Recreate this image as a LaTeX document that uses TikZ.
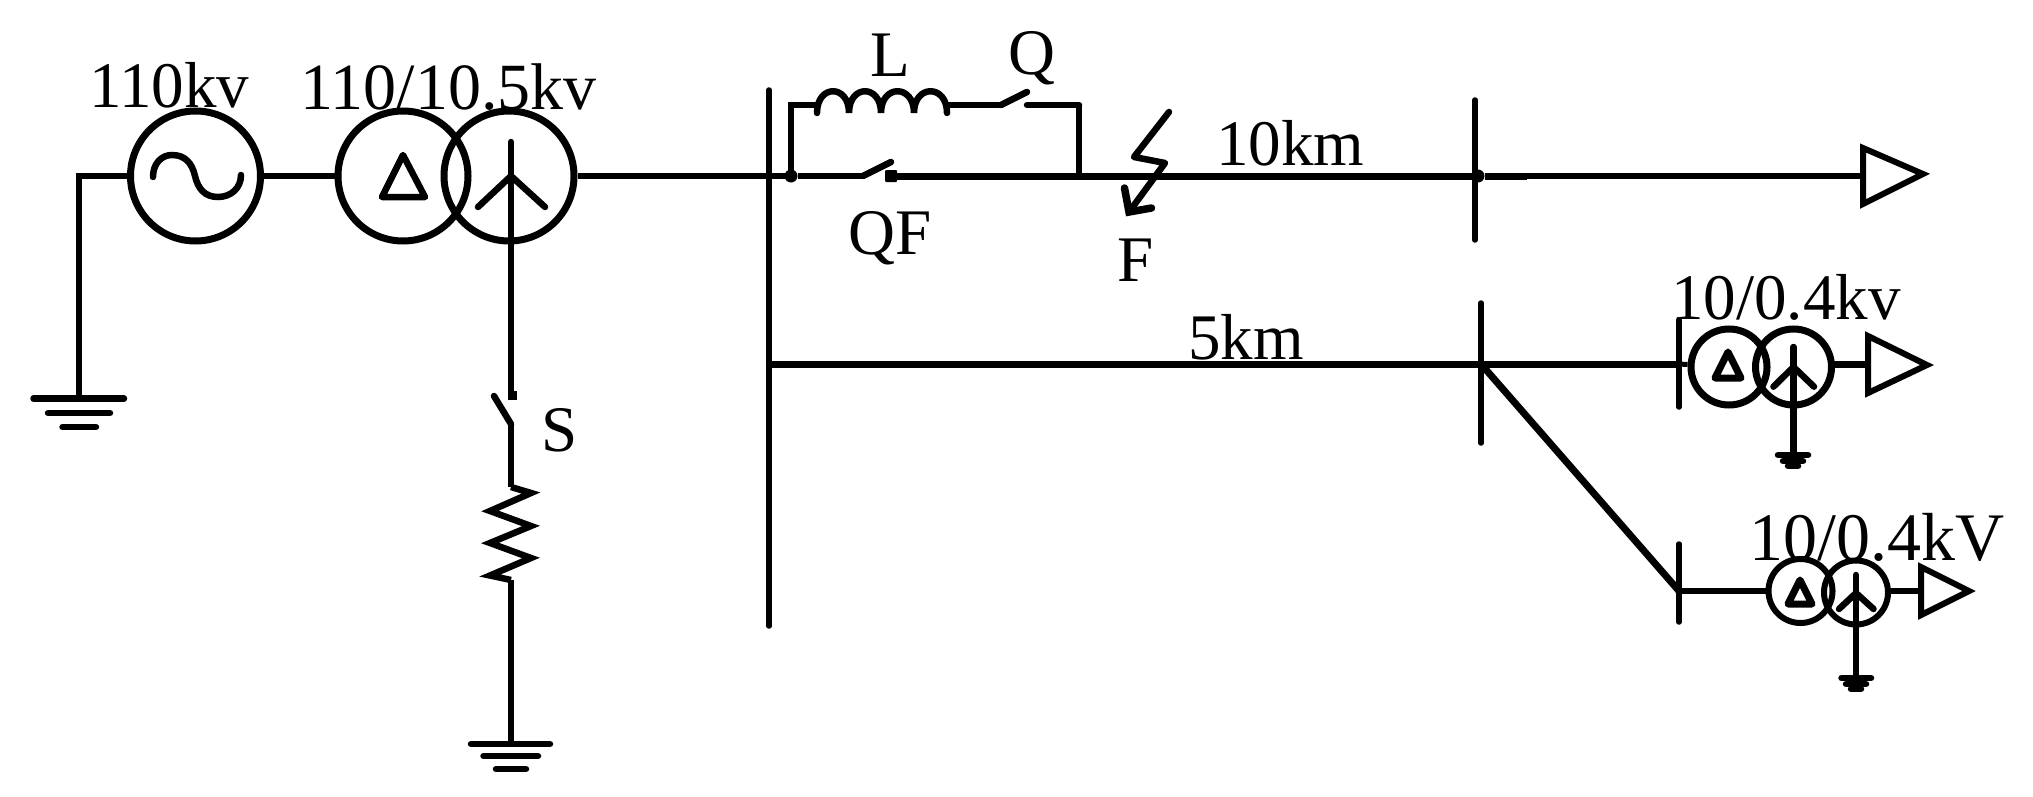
\documentclass[tikz,border=0pt]{standalone}
\usepackage{fontspec}
\setmainfont{Liberation Serif}
\begin{document}
\begin{tikzpicture}[x=1pt,y=-1pt,
  wire/.style={line width=6.5pt,line join=miter},
  thin wire/.style={line width=5pt},
  busbar/.style={line width=5.5pt,line cap=round},
  winding/.style={circle,draw,line width=7pt,inner sep=0pt,minimum size=130pt},
  winding small/.style={circle,draw,line width=7pt,inner sep=0pt,minimum size=76pt},
  winding tiny/.style={circle,draw,line width=6pt,inner sep=0pt,minimum size=64pt},
  sym/.style={line width=6.5pt,line cap=round,line join=miter},
  load/.style={line width=6pt,line join=miter},
  dot/.style={circle,fill,inner sep=0pt,outer sep=0pt,minimum size=13pt},
  lbl/.style={anchor=base west,inner sep=0pt,font=\fontsize{65}{70}\selectfont}]
\useasboundingbox (0,0) rectangle (2033,797);

% --- source and main transformer
\node[winding] (gen) at (195.5,176) {};
\node[winding] (t1a) at (403,176) {};
\node[winding] (t1b) at (509,176) {};
\coordinate (g1top) at (79,176);
\coordinate (g1) at (79,398.5);
\draw[wire] (gen) -- (g1top) -- (g1);
\draw[wire] (gen) -- (t1a);
\draw[sym] (153,177) .. controls (153,163) and (162,155) .. (172,155) .. controls (185,155) and (192,163) .. (195,176) .. controls (198,189) and (205,197) .. (218,197) .. controls (231,197) and (241,188) .. (241,175);
\draw[sym,line join=round] (403,155) -- (382,197) -- (425,197) -- cycle;
\coordinate (n1) at (511,176);
\draw[sym] (478,207) -- (n1) -- (545,207);
\draw[sym] (511,142) -- (n1);
% grounds
\draw[wire,line cap=round] (33.5,398.5) -- (124,398.5) (48,413) -- (110,413) (62.5,427) -- (96,427);

% --- neutral branch
\coordinate (s1) at (511,396);
\coordinate (s2) at (511,424);
\coordinate (r1) at (511,487);
\coordinate (r2) at (511,580);
\coordinate (g2) at (511,744);
\draw[wire] (n1) -- (s1);
\node[rectangle,fill,inner sep=0pt,minimum size=9pt] (scontact) at (512,395) {};
\draw[sym] (494,396) -- (s2);
\draw[wire] (s2) -- (r1);
\draw[sym,line cap=butt] (r1) -- (531,493) -- (490,511) -- (531,526) -- (490,543) -- (531,558) -- (490,575.5) -- (r2);
\draw[wire] (r2) -- (g2);
\draw[wire,line cap=round] (471,744) -- (550,744) (483.5,756) -- (538,756) (496,769) -- (526,769);

% --- main busbar and feeders
\coordinate (b1a) at (769,90);
\coordinate (b1b) at (769,626);
\coordinate (b1f) at (769,176);
\coordinate (b1g) at (769,364);
\draw[busbar] (b1a) -- (b1b);
\draw[wire] (t1b) -- (b1f);
\node[dot] (j1) at (791,176) {};
\draw[wire] (b1f) -- (j1);
\coordinate (qf1) at (863,176);
\node[rectangle,fill,rounded corners=1pt,inner sep=0pt,outer sep=0pt,minimum size=12pt] (qf2) at (891,176) {};
\coordinate (qfb) at (891,162);
\draw[wire] (j1) -- (qf1);
\draw[sym] (qf1) -- (qfb);
\coordinate (b2a) at (1475,100);
\coordinate (b2b) at (1475,240);
\draw[busbar] (b2a) -- (b2b);
\node[dot] (j2) at (1478,176) {};
\coordinate (j2e) at (1527,176);
\coordinate (load1) at (1863,176);
\draw[wire,line width=7pt] (qf2) -- (j2) -- (j2e);
\draw[wire,line width=6pt] (j2e) -- (load1);
\draw[load] (1863,148) -- (1923,174) -- (1863,204) -- cycle;

% --- bypass
\coordinate (c0) at (791,105);
\coordinate (c1) at (817,105);
\coordinate (c2) at (947,105);
\coordinate (q1) at (1001,105);
\coordinate (qb) at (1027,92);
\coordinate (q2) at (1027,105);
\coordinate (c3) at (1079,105);
\coordinate (c4) at (1079,176);
\draw[wire] (j1) -- (c0) -- (c1);
\draw[sym] (c1 |- 0,113) .. controls (817,84) and (849,84) .. (849,113) .. controls (849,84) and (881,84) .. (881,113) .. controls (881,84) and (914,84) .. (914,113) .. controls (914,84) and (947,84) .. (947,113);
\draw[wire] (c2) -- (q1);
\draw[sym] (q1) -- (qb);
\draw[wire,line cap=round] (q2) -- (c3);
\draw[wire] (c3) -- (c4);

% --- fault mark
\draw[sym,line join=round] (1169,112) -- (1134,157) -- (1165,163) -- (1129,212);
\draw[sym,line width=7.5pt] (1124.5,188) -- (1129,212) -- (1151.5,208);

% --- 5 km feeder
\coordinate (b3a) at (1481,303);
\coordinate (b3b) at (1481,443);
\draw[busbar] (b3a) -- (b3b);
\coordinate (j3) at (1481,364);
\draw[wire,line width=7pt] (b1g) -- (j3);
\coordinate (b4a) at (1679,320);
\coordinate (b4b) at (1679,407);
\draw[busbar] (b4a) -- (b4b);
\coordinate (b4j) at (1679,364);
\draw[wire,line width=7pt] (j3) -- (b4j);
\node[winding small] (t2a) at (1729,367) {};
\node[winding small] (t2b) at (1793.5,367) {};
\draw[thin wire] (b4j) -- (t2a);
\coordinate (load2) at (1868,364.5);
\draw[wire] (1831,364.5) -- (load2);
\draw[sym,line width=7pt,line join=round] (1728,352) -- (1715,378) -- (1741,378) -- cycle;
\coordinate (n2) at (1793.5,367);
\draw[sym] (1773.4,386.7) -- (n2) -- (1814,386.7);
\draw[sym] (1793.5,347) -- (n2);
\coordinate (g3) at (1793.5,455);
\draw[wire] (n2) -- (g3);
\draw[wire,line cap=round] (1778,455) -- (1808,455) (1783,461) -- (1803,461) (1788,466) -- (1798,466);
\draw[load] (1868,336) -- (1927,365) -- (1868,393) -- cycle;

% --- lower branch
\coordinate (b5a) at (1679,544);
\coordinate (b5b) at (1679,622);
\coordinate (b5j) at (1679,591);
\draw[busbar] (b5a) -- (b5b);
\draw[wire,line width=7pt] (j3) -- (b5j);
\node[winding tiny] (t3a) at (1800.5,591) {};
\node[winding tiny] (t3b) at (1856,592.5) {};
\draw[wire,line width=6.5pt] (b5j) -- (t3a);
\coordinate (load3) at (1921,591);
\draw[wire] (t3b.east |- load3) -- (load3);
\draw[sym,line width=7pt,line join=round] (1800,580) -- (1788,604) -- (1812,604) -- cycle;
\coordinate (n3) at (1856,593);
\draw[sym] (1839,609) -- (n3) -- (1873.5,609);
\draw[sym] (1856,575) -- (n3);
\coordinate (g4) at (1856,678);
\draw[wire] (n3) -- (g4);
\draw[wire,line cap=round] (1841.5,678) -- (1871,678) (1846,684) -- (1866,684) (1851,689) -- (1861,689);
\draw[load] (1921,567) -- (1969,591) -- (1921,615) -- cycle;

% --- labels
\node[lbl] (t110) at (89,107) {110kv};
\node[lbl,font=\fontsize{66}{70}\selectfont] (t1105) at (300,110) {110/10.5kv};
\node[lbl] (tS) at (541,451) {S};
\node[lbl] (tL) at (870,77) {L};
\node[lbl] (tQ) at (1008,75) {Q};
\node[lbl] (tQF) at (848,254) {QF};
\node[lbl] (tF) at (1117,281) {F};
\node[lbl] (t10km) at (1216,165) {10km};
\node[lbl] (t5km) at (1188,359) {5km};
\node[lbl] (t104a) at (1671,319) {10/0.4kv};
\node[lbl,font=\fontsize{68}{70}\selectfont] (t104b) at (1749,560) {10/0.4kV};
\end{tikzpicture}
\end{document}
